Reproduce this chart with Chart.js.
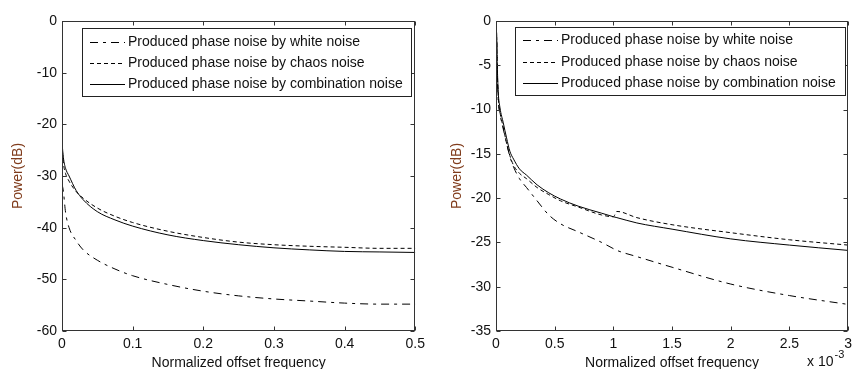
<!DOCTYPE html>
<html><head><meta charset="utf-8">
<script src="https://cdn.jsdelivr.net/npm/chart.js@4/dist/chart.umd.min.js"></script>
<style>
html,body{margin:0;padding:0;background:#fff;}
#wrap{position:relative;width:857px;height:369px;overflow:hidden;background:#fff;}
canvas{position:absolute;top:0;}
</style></head><body>
<div id="wrap">
<canvas id="c1" width="430" height="369" style="left:0;width:430px;height:369px"></canvas>
<canvas id="c2" width="427" height="369" style="left:430px;width:427px;height:369px"></canvas>
</div>
<script>
// ---------- data ----------
const seriesLabels = [
  'Produced phase noise by white noise',
  'Produced phase noise by chaos noise',
  'Produced phase noise by combination noise'
];
const xTitle = 'Normalized offset frequency';
const yTitle = 'Power(dB)';

// left panel: normalized offset frequency 0 .. 0.5
const leftFreq  = [0, 0.002, 0.005, 0.01, 0.02, 0.03, 0.05, 0.075, 0.1, 0.15, 0.2, 0.25, 0.3, 0.35, 0.4, 0.45, 0.5];
const leftWhite = [-31.5, -33, -37, -40, -42.5, -44.3, -46.3, -48, -49.3, -51, -52.3, -53.2, -53.8, -54.2, -54.6, -54.8, -54.8];
const leftChaos = [-24, -27.5, -29.5, -31, -33, -34.3, -36.2, -37.8, -39.0, -40.7, -41.9, -42.8, -43.3, -43.6, -43.8, -44, -44];
const leftComb  = [-23.5, -26.5, -28.5, -30, -32.8, -34.6, -36.9, -38.5, -39.7, -41.4, -42.5, -43.3, -43.9, -44.3, -44.6, -44.7, -44.8];

// right panel: normalized offset frequency in units of 1e-3 (0 .. 3)
const rightFreq  = [0, 0.005, 0.011, 0.019, 0.034, 0.062, 0.09, 0.118, 0.15, 0.2, 0.26, 0.35, 0.45, 0.55, 0.7, 0.9, 1.0, 1.03, 1.2, 1.5, 2.0, 2.5, 3.0];
const rightWhite = [-4, -2, -6, -9, -10.5, -12.2, -13.8, -15.3, -16.5, -17.8, -18.8, -20.3, -21.9, -22.9, -23.8, -25, -25.7, -25.9, -26.6, -27.8, -29.7, -31, -32];
const rightChaos = [-3.5, -1.8, -5.5, -8.5, -10.3, -12, -13.8, -15.2, -16.3, -17.2, -17.8, -18.8, -19.6, -20.3, -21, -21.9, -22.1, -21.5, -22.2, -23, -23.9, -24.7, -25.3];
const rightComb  = [-3, -1.3, -5, -8, -9.8, -11.5, -13.2, -14.7, -15.6, -16.7, -17.4, -18.5, -19.4, -20.1, -20.9, -21.7, -22.1, -22.2, -22.8, -23.5, -24.6, -25.3, -25.9];

const leftXTicks  = [0, 0.1, 0.2, 0.3, 0.4, 0.5];
const leftYTicks  = [0, -10, -20, -30, -40, -50, -60];
const rightXTicks = [0, 0.5, 1, 1.5, 2, 2.5, 3];
const rightYTicks = [0, -5, -10, -15, -20, -25, -30, -35];
const rightXExponent = '-3';

// ---------- styles ----------
const FONT = "'Liberation Sans', Arial, sans-serif";
const FS = 14;
const dashes = [[8, 5, 3, 5], [4, 3], []];

function makeDatasets(xs, ys) {
  return ys.map((arr, i) => ({
    label: seriesLabels[i],
    data: arr.map((v, k) => ({x: xs[k], y: v})),
    borderColor: '#000',
    borderWidth: 1,
    borderDash: dashes[i],
    pointRadius: 0,
    cubicInterpolationMode: 'monotone',
    fill: false
  }));
}

const framePlugin = {
  id: 'frame',
  afterDatasetsDraw(chart) {
    const {ctx, chartArea: a, scales: {x, y}} = chart;
    const L = Math.round(a.left) + 0.5, R = Math.round(a.right) - 0.5;
    const T = Math.round(a.top) + 0.5, B = Math.round(a.bottom) - 0.5;
    ctx.save();
    ctx.strokeStyle = '#333';
    ctx.lineWidth = 1;
    ctx.setLineDash([]);
    ctx.beginPath();
    const tl = 4;
    x.ticks.forEach(t => {
      const p = Math.round(x.getPixelForValue(t.value)) + 0.5;
      ctx.moveTo(p, B); ctx.lineTo(p, B - tl);
      ctx.moveTo(p, T); ctx.lineTo(p, T + tl);
    });
    y.ticks.forEach(t => {
      const p = Math.round(y.getPixelForValue(t.value)) + 0.5;
      ctx.moveTo(L, p); ctx.lineTo(L + tl, p);
      ctx.moveTo(R, p); ctx.lineTo(R - tl, p);
    });
    ctx.stroke();
    ctx.strokeRect(L, T, R - L, B - T);
    ctx.restore();
  }
};

const boxLegendPlugin = {
  id: 'boxLegend',
  afterDatasetsDraw(chart, args, o) {
    const {ctx} = chart;
    ctx.save();
    ctx.fillStyle = '#fff';
    ctx.fillRect(o.x1, o.y1, o.x2 - o.x1, o.y2 - o.y1);
    ctx.strokeStyle = '#222';
    ctx.lineWidth = 1;
    ctx.setLineDash([]);
    ctx.strokeRect(o.x1 + 0.5, o.y1 + 0.5, o.x2 - o.x1, o.y2 - o.y1);
    chart.data.datasets.forEach((ds, i) => {
      const ry = Math.round(o.rows[i]) + 0.5;
      ctx.setLineDash(ds.borderDash || []);
      ctx.strokeStyle = ds.borderColor;
      ctx.beginPath();
      ctx.moveTo(o.s1, ry); ctx.lineTo(o.s2, ry);
      ctx.stroke();
      ctx.setLineDash([]);
      ctx.fillStyle = '#111';
      ctx.font = FS + 'px ' + FONT;
      ctx.textBaseline = 'middle';
      ctx.textAlign = 'left';
      ctx.fillText(ds.label, o.tx, o.rows[i] + 0.5);
    });
    ctx.restore();
  }
};

const exponentPlugin = {
  id: 'exponent',
  afterDraw(chart, args, o) {
    if (!o || !o.text) return;
    const {ctx} = chart;
    ctx.save();
    ctx.fillStyle = '#111';
    ctx.textAlign = 'left';
    ctx.textBaseline = 'alphabetic';
    ctx.font = FS + 'px ' + FONT;
    ctx.fillText('x 10', o.x, o.y);
    const w = ctx.measureText('x 10').width;
    ctx.font = '11px ' + FONT;
    ctx.fillText(o.text, o.x + w + 1, o.y - 8);
    ctx.restore();
  }
};

function makeChart(id, xs, ys, xr, yr, xTicks, yTicks, geo, legendOpts, expOpts) {
  return new Chart(document.getElementById(id), {
    type: 'line',
    data: {datasets: makeDatasets(xs, ys)},
    plugins: [framePlugin, boxLegendPlugin, exponentPlugin],
    options: {
      responsive: false,
      animation: false,
      events: [],
      layout: {padding: {left: 0, right: geo.padR, top: geo.padT, bottom: 0}},
      plugins: {
        legend: {display: false},
        tooltip: {enabled: false},
        boxLegend: legendOpts,
        exponent: expOpts
      },
      scales: {
        x: {
          type: 'linear', min: xr[0], max: xr[1],
          afterBuildTicks: s => { s.ticks = xTicks.map(v => ({value: v})); },
          afterFit: s => { s.height = geo.xH; },
          grid: {display: false, drawTicks: false},
          border: {display: false},
          ticks: {color: '#111', padding: geo.xPad, font: {family: FONT, size: FS}, maxRotation: 0, autoSkip: false,
                  callback: v => String(v)},
          title: {display: true, text: xTitle, color: '#111', font: {family: FONT, size: FS}, padding: {top: 0, bottom: geo.xTitlePad}}
        },
        y: {
          type: 'linear', min: yr[0], max: yr[1],
          afterBuildTicks: s => { s.ticks = yTicks.map(v => ({value: v})); },
          afterFit: s => { s.width = geo.yW; },
          grid: {display: false, drawTicks: false},
          border: {display: false},
          ticks: {color: '#111', padding: 5, font: {family: FONT, size: FS}, autoSkip: false,
                  callback: v => String(v)},
          title: {display: true, text: yTitle, color: '#803c1c', font: {family: FONT, size: FS}, padding: {top: geo.yTitlePad, bottom: 0}}
        }
      }
    }
  });
}

makeChart('c1', leftFreq, [leftWhite, leftChaos, leftComb], [0, 0.5], [-60, 0], leftXTicks, leftYTicks,
  {padR: 12, padT: 21, xH: 38, yW: 62, xPad: 5, xTitlePad: -3, yTitlePad: 10},
  {x1: 82, y1: 28, x2: 411, y2: 96, rows: [42, 63, 84], s1: 90, s2: 125, tx: 128},
  {text: ''});

makeChart('c2', rightFreq, [rightWhite, rightChaos, rightComb], [0, 3], [-35, 0], rightXTicks, rightYTicks,
  {padR: 5, padT: 21, xH: 38, yW: 66, xPad: 5, xTitlePad: -3, yTitlePad: 19},
  {x1: 85, y1: 27, x2: 415, y2: 95, rows: [40, 62, 83], s1: 93, s2: 128, tx: 131},
  {text: rightXExponent, x: 377, y: 366});
</script>
</body></html>
